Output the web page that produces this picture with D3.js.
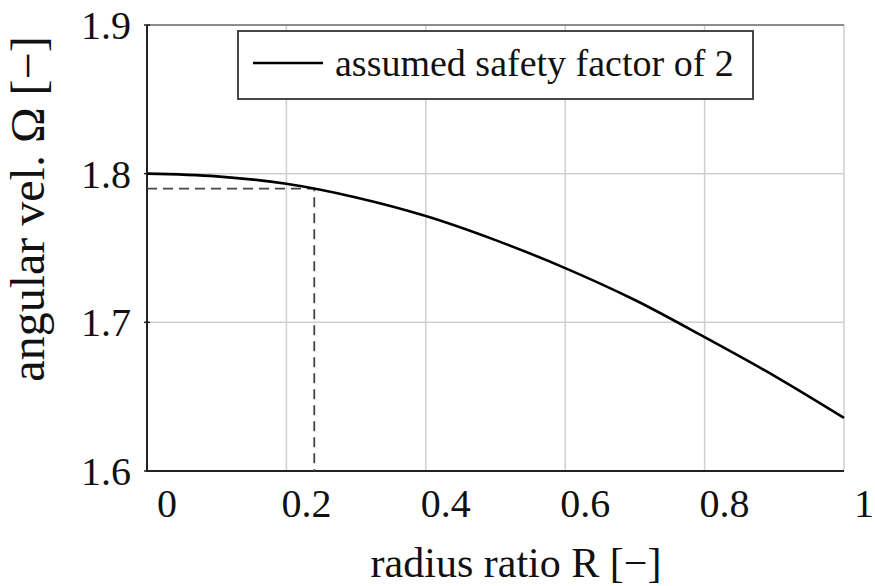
<!DOCTYPE html>
<html>
	<head>
		<meta charset="UTF-8" />
		<title>angular velocity vs radius ratio</title>
		<style>
			html, body {
				margin: 0;
				padding: 0;
				background: #fff;
				overflow: hidden;
			}
			svg text {
				font-family: 'Liberation Serif', 'Times New Roman', serif;
				fill: #111;
			}
			.grid line {
				stroke: #cfcfcf;
				stroke-width: 1.5px;
			}
		</style>
		<script src="https://d3js.org/d3.v7.min.js"></script>
	</head>
	<body>
		<svg></svg>
		<script>
			// values
			const radiusRatio = [0, 0.1, 0.2, 0.3, 0.4, 0.5, 0.6, 0.7, 0.8, 0.9, 1.0];
			const angularVel = [1.8, 1.7982, 1.7932, 1.784, 1.7715, 1.7553, 1.7365, 1.715, 1.690, 1.664, 1.6357];
			const marker = { R: 0.24, omega: 1.79 };
			const xTicks = [0, 0.2, 0.4, 0.6, 0.8, 1];
			const yTicks = [1.6, 1.7, 1.8, 1.9];
			const xTickLabels = ['0', '0.2', '0.4', '0.6', '0.8', '1'];
			const yTickLabels = ['1.6', '1.7', '1.8', '1.9'];
			const legendLabel = 'assumed safety factor of 2';

			let width = 875, height = 586;
			let svg = d3.select('svg')
				.attr('width', width)
				.attr('height', height);

			let x = d3.scaleLinear().domain([0, 1]).range([147, 844]);
			let y = d3.scaleLinear().domain([1.6, 1.9]).range([471, 25]);

			// grid
			let grid = svg.append('g').attr('class', 'grid');
			grid.selectAll('.gx')
				.data(xTicks.filter(d => d > 0))
				.enter().append('line')
				.attr('x1', d => x(d)).attr('x2', d => x(d))
				.attr('y1', y(1.6)).attr('y2', y(1.9));
			grid.selectAll('.gy')
				.data(yTicks.filter(d => d > 1.6 && d < 1.9))
				.enter().append('line')
				.attr('x1', x(0)).attr('x2', x(1))
				.attr('y1', d => y(d)).attr('y2', d => y(d));

			// frame
			svg.append('line')
				.attr('x1', x(0)).attr('x2', x(1))
				.attr('y1', y(1.9)).attr('y2', y(1.9))
				.attr('stroke', '#666').attr('stroke-width', 1.5);
			svg.append('line')
				.attr('x1', x(0)).attr('x2', x(0))
				.attr('y1', y(1.9)).attr('y2', y(1.6))
				.attr('stroke', '#222').attr('stroke-width', 2);
			svg.append('line')
				.attr('x1', x(0) - 1).attr('x2', x(1))
				.attr('y1', y(1.6)).attr('y2', y(1.6))
				.attr('stroke', '#222').attr('stroke-width', 2);

			// small ticks on left
			svg.selectAll('.ytick')
				.data(yTicks)
				.enter().append('line')
				.attr('x1', x(0) - 3).attr('x2', x(0) + 3)
				.attr('y1', d => y(d)).attr('y2', d => y(d))
				.attr('stroke', '#222').attr('stroke-width', 1.5);

			// dashed marker
			svg.append('path')
				.attr('d', `M${x(0)},${y(marker.omega)}H${x(marker.R)}V${y(1.6)}`)
				.attr('fill', 'none')
				.attr('stroke', '#444')
				.attr('stroke-width', 1.8)
				.attr('stroke-dasharray', '10,6');

			// curve
			let line = d3.line()
				.x((d, i) => x(radiusRatio[i]))
				.y(d => y(d))
				.curve(d3.curveCatmullRom);
			svg.append('path')
				.datum(angularVel)
				.attr('d', line)
				.attr('fill', 'none')
				.attr('stroke', '#000')
				.attr('stroke-width', 2.6);

			// tick labels
			svg.selectAll('.xl')
				.data(xTicks)
				.enter().append('text')
				.attr('x', d => x(d) + 20)
				.attr('y', 517)
				.attr('text-anchor', 'middle')
				.attr('font-size', 40)
				.text((d, i) => xTickLabels[i]);
			svg.selectAll('.yl')
				.data(yTicks)
				.enter().append('text')
				.attr('x', 131)
				.attr('y', d => y(d) + 14)
				.attr('text-anchor', 'end')
				.attr('font-size', 40)
				.text((d, i) => yTickLabels[i]);

			// axis titles
			svg.append('text')
				.attr('x', 516)
				.attr('y', 577)
				.attr('text-anchor', 'middle')
				.attr('font-size', 42)
				.text('radius ratio R [\u2212]');
			svg.append('text')
				.attr('transform', 'translate(44,209) rotate(-90)')
				.attr('text-anchor', 'middle')
				.attr('font-size', 48)
				.text('angular vel. \u03A9 [\u2212]');

			// legend
			let legend = svg.append('g');
			legend.append('rect')
				.attr('x', 238).attr('y', 31)
				.attr('width', 515).attr('height', 68)
				.attr('fill', '#fff')
				.attr('stroke', '#333').attr('stroke-width', 1.8);
			legend.append('line')
				.attr('x1', 253).attr('x2', 323)
				.attr('y1', 63).attr('y2', 63)
				.attr('stroke', '#000').attr('stroke-width', 2.5);
			legend.append('text')
				.attr('x', 335).attr('y', 76)
				.attr('font-size', 38)
				.text(legendLabel);
		</script>
	</body>
</html>
